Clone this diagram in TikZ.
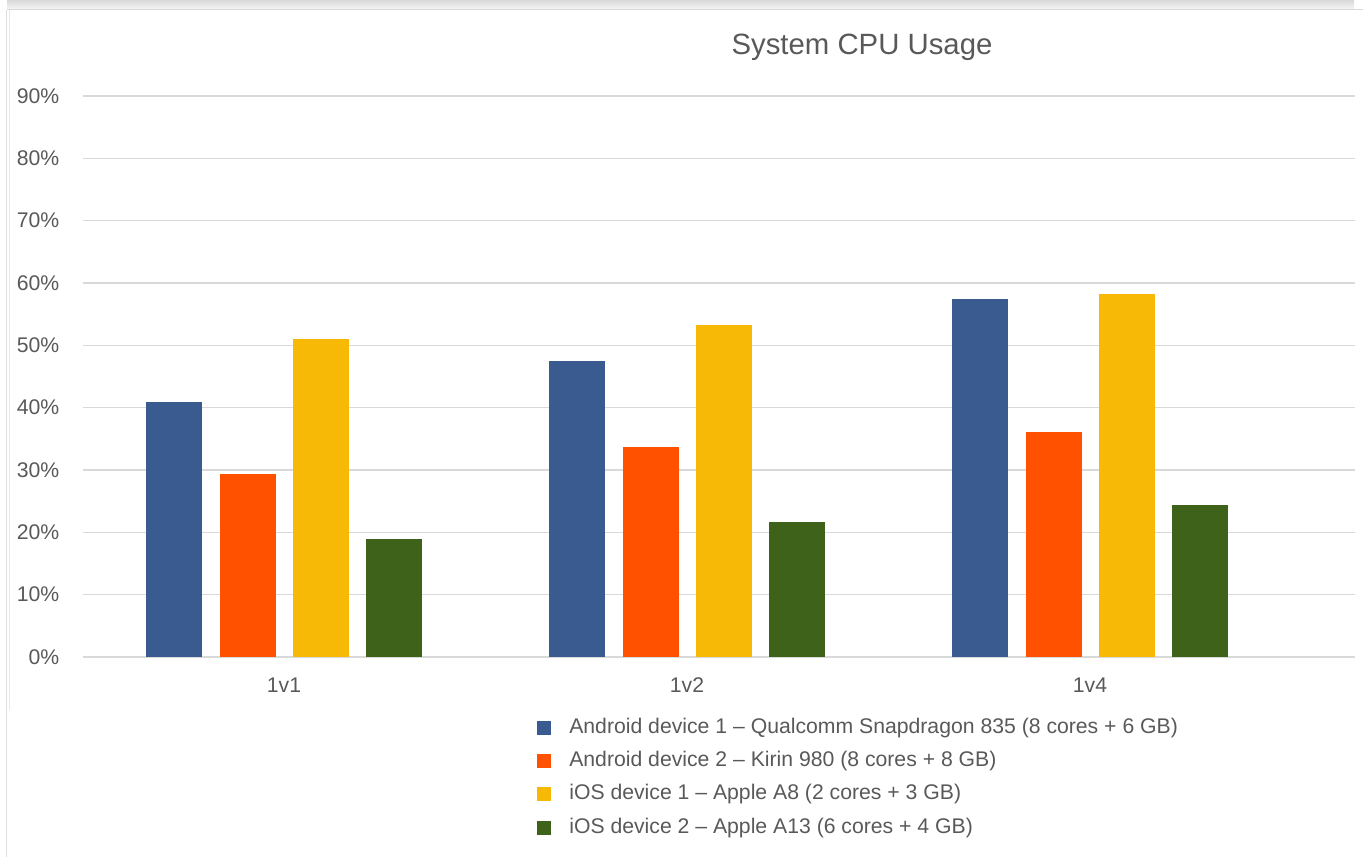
\documentclass[tikz,border=0pt]{standalone}
\usepackage{fontspec}
\setmainfont{Liberation Sans}
\usetikzlibrary{positioning}

\definecolor{barblue}{HTML}{3A5B8F}
\definecolor{barorange}{HTML}{FF5100}
\definecolor{baryellow}{HTML}{F8B806}
\definecolor{bargreen}{HTML}{3E6219}
\definecolor{labelgray}{HTML}{595959}
\definecolor{gridgray}{HTML}{D9D9D9}

\tikzset{
  label text/.style={text=labelgray, font=\fontsize{15.9}{18}\selectfont},
  gridline/.style={draw=gridgray, line width=1pt},
  legkey/.style={minimum size=10.5pt, inner sep=0pt},
}

\begin{document}
\begin{tikzpicture}[x=0.75pt, y=-0.75pt, node distance=14pt]
  \useasboundingbox (0,0) rectangle (1363,857);
  % window frame
  \fill[top color=gray!30, bottom color=gray!8] (7,0) rectangle (1354,9);
  \draw[gray!30, line width=0.8pt] (7,9.5) -- (1363,9.5);
  \draw[gray!25, line width=0.8pt] (6.5,9.5) -- (6.5,857);
  \draw[gray!18, line width=0.6pt] (9.5,9.5) -- (9.5,710);

  \node (title) at (862,47) [text=labelgray, font=\fontsize{22}{25}\selectfont] {System CPU Usage};

  % grid and y labels
  \foreach \p/\t in {0/0,1/10,2/20,3/30,4/40,5/50,6/60,7/70,8/80,9/90} {
    \draw[gridline] (83,{657-62.35*\p}) -- (1355,{657-62.35*\p});
    \node (y\p) at (64,{657-62.35*\p}) [anchor=east, label text] {\t\%};
  }

  % bars
  \foreach \cx/\lab/\va/\vb/\vc/\vd in {284/1v1/40.9/29.3/51.0/18.9,
                                        687/1v2/47.4/33.7/53.2/21.6,
                                        1090/1v4/57.4/36.1/58.3/24.4} {
    \fill[barblue]   (\cx-138,657) rectangle ++(56,{-6.235*\va});
    \fill[barorange] (\cx-64.5,657) rectangle ++(56,{-6.235*\vb});
    \fill[baryellow] (\cx+8.5,657) rectangle ++(56,{-6.235*\vc});
    \fill[bargreen]  (\cx+82,657) rectangle ++(56,{-6.235*\vd});
    \node (cat\lab) at (\cx,685) [label text] {\lab};
  }

  % legend
  \node (key1) at (544,728) [legkey, fill=barblue] {};
  \node (key2) [below=of key1, legkey, fill=barorange] {};
  \node (key3) [below=of key2, legkey, fill=baryellow] {};
  \node (key4) [below=of key3, legkey, fill=bargreen] {};
  \node (leg1) [right=10pt of key1, label text] {Android device 1 – Qualcomm Snapdragon 835 (8 cores + 6 GB)};
  \node (leg2) [right=10pt of key2, label text] {Android device 2 – Kirin 980 (8 cores + 8 GB)};
  \node (leg3) [right=10pt of key3, label text] {iOS device 1 – Apple A8 (2 cores + 3 GB)};
  \node (leg4) [right=10pt of key4, label text] {iOS device 2 – Apple A13 (6 cores + 4 GB)};
\end{tikzpicture}
\end{document}
